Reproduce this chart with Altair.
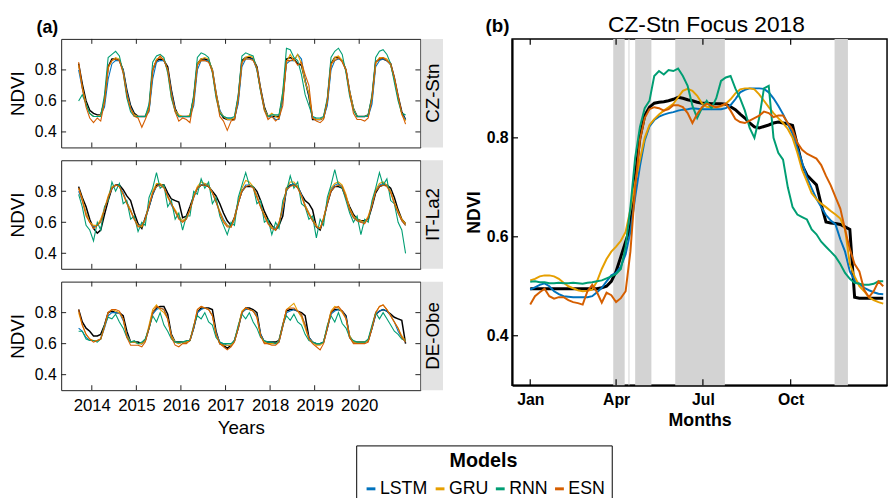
import altair as alt
import numpy as np
import pandas as pd

FONT = "Liberation Sans"
MODELS = ["LSTM", "GRU", "RNN", "ESN"]
COLORS = ["#0072BD", "#E69F00", "#009E73", "#D55E00"]
SITES = ["CZ-Stn", "IT-La2", "DE-Obe"]
NDVI_TICKS = [0.4, 0.6, 0.8]
YEARS = [2014, 2015, 2016, 2017, 2018, 2019, 2020]

# ---- panel (a): monthly NDVI (x100), Sep 2013 .. Jan 2021 ----
CZ_OBS = [84,71,60,54, 52,51,51,60,82,87,87,86,80,67,57,52, 50,50,50,55,80,86,87,86,82,67,55,50, 50,50,50,62,84,87,87,86,80,65,53,49, 48,48,48,62,86,88,88,87,82,68,56,50, 50,50,50,62,87,88,87,84,83,73,63,48, 48,48,49,60,84,88,88,86,80,66,55,50, 50,50,51,62,85,87,87,86,84,75,63,53, 48]
CZ_LSTM = [80,68,58,52, 50,50,51,56,74,84,86,86,80,66,56,51, 50,50,50,53,74,85,86,86,80,66,54,50, 50,50,50,57,80,86,86,86,80,64,54,50, 49,49,49,58,82,87,87,87,80,67,55,50, 50,48,48,61,84,86,86,90,87,73,64,50, 48,48,49,57,80,86,87,86,80,66,55,50, 50,50,50,58,82,86,87,86,83,74,62,52, 48]
CZ_GRU = [83,69,58,52, 50,50,51,60,81,86,88,87,79,64,55,51, 50,50,50,55,80,87,88,87,80,62,54,51, 50,50,51,61,84,87,88,87,80,65,53,50, 48,48,49,62,85,88,89,88,81,67,55,50, 52,50,49,66,85,90,86,90,84,72,65,49, 48,48,49,60,83,88,89,86,80,66,55,50, 50,50,51,62,84,88,88,87,83,74,62,51, 47]
CZ_RNN = [60,64,58,52, 50,50,50,64,88,90,92,89,78,62,53,50, 50,50,50,58,85,89,90,88,78,62,53,50, 50,50,50,64,88,91,90,88,78,62,52,50, 49,49,50,64,89,91,90,89,80,66,54,50, 51,51,51,66,94,93,88,86,77,64,57,50, 49,49,50,62,88,92,94,90,78,63,54,50, 50,50,51,64,88,92,93,90,84,72,60,52, 51]
CZ_ESN = [85,68,56,49, 46,49,47,59,82,86,87,86,78,64,55,50, 49,43,48,54,80,86,89,86,80,65,53,47, 49,48,46,60,83,86,86,85,79,64,50,47, 41,47,48,61,85,87,87,86,81,67,54,48, 50,47,49,57,86,86,87,83,85,77,70,49, 47,46,48,60,84,86,88,85,80,65,52,48, 48,47,49,62,85,87,88,86,84,75,63,52, 45]

IT_OBS = [83,76,70,62, 56,53,55,65,74,82,84,84,81,77,74,66, 59,56,63,70,78,84,84,84,79,75,74,73, 63,64,70,77,82,84,84,83,80,77,72,66, 61,58,63,73,80,83,83,83,80,74,67,62, 58,55,58,64,82,84,84,83,78,74,72,68, 57,55,62,72,80,83,83,82,76,70,65,62, 61,61,62,70,79,83,84,84,82,76,68,62, 59]
IT_LSTM = [80,74,66,60, 57,58,61,68,76,82,84,83,79,73,68,62, 58,58,62,70,78,83,84,83,77,71,67,63, 61,62,68,76,82,84,85,84,79,73,67,62, 58,57,62,72,80,84,84,83,77,70,64,60, 57,56,60,68,80,84,85,83,78,71,66,61, 57,56,62,72,81,84,85,83,77,68,63,61, 60,60,63,71,80,84,85,84,80,72,66,61, 58]
IT_GRU = [82,75,66,60, 58,58,62,69,77,83,84,83,78,73,68,62, 58,57,62,71,80,85,85,83,76,72,68,64, 61,63,68,77,83,86,85,84,79,74,67,61, 58,57,63,73,82,87,86,83,77,70,65,60, 57,55,60,70,82,86,86,83,77,71,66,62, 58,56,63,73,82,85,86,84,78,69,64,62, 61,60,64,72,81,85,86,84,80,73,67,62, 59]
IT_RNN = [78,70,58,55, 48,60,55,70,74,86,80,85,72,74,62,64, 54,60,58,76,82,92,82,84,70,74,62,66, 55,64,64,80,78,88,82,86,72,76,64,58, 52,60,58,76,84,92,84,83,72,74,60,62, 52,60,56,74,80,90,82,86,72,70,62,64, 50,62,58,76,84,94,84,82,74,66,60,64, 52,62,60,74,82,92,84,88,74,72,60,55, 40]
IT_ESN = [82,74,64,60, 56,58,60,68,76,82,84,83,78,72,67,62, 57,58,62,71,79,83,84,82,77,72,67,62, 60,62,68,76,82,84,84,83,79,73,66,60, 57,57,62,72,80,83,84,82,76,70,64,59, 56,55,59,70,81,83,84,82,77,70,65,61, 57,56,62,72,80,83,84,83,76,68,63,61, 60,59,63,71,80,83,84,83,79,72,66,61, 58]

DE_OBS = [82,74,70,68, 65,65,66,72,80,81,80,80,78,68,61,61, 61,60,62,70,80,83,84,84,79,66,61,61, 61,61,62,70,80,83,83,83,82,68,60,59, 57,59,62,70,80,83,83,82,80,66,61,61, 61,61,62,72,81,82,82,81,80,78,64,61, 60,60,61,70,80,82,82,81,78,64,61,61, 61,61,62,70,79,81,82,81,79,77,76,75, 60]
DE_LSTM = [70,68,64,62, 62,62,63,70,78,80,80,80,75,66,61,61, 60,60,62,70,79,82,83,82,76,65,61,60, 61,61,62,70,80,82,83,82,78,67,61,60, 59,59,62,70,80,82,82,81,78,66,61,60, 60,60,61,71,80,81,82,81,78,72,64,61, 60,60,61,70,79,81,82,81,77,65,61,61, 61,61,62,70,79,81,82,81,78,74,68,64, 61]
DE_GRU = [80,72,66,63, 62,62,63,71,80,82,81,80,76,65,61,61, 60,60,62,72,82,85,82,80,76,65,61,60, 61,61,62,71,82,84,83,82,78,66,60,59, 59,59,62,71,81,83,82,81,77,65,61,60, 60,60,62,72,82,84,86,81,77,70,63,61, 59,59,61,71,81,84,83,80,76,65,61,61, 61,61,62,71,80,84,85,82,78,74,70,65, 62]
DE_RNN = [68,68,63,62, 62,61,63,72,77,76,79,74,70,64,61,62, 60,61,63,70,78,74,80,72,68,63,61,61, 61,62,62,72,78,76,80,74,72,64,61,60, 60,60,62,72,79,76,80,74,70,64,62,61, 61,60,62,72,78,75,79,74,72,66,62,61, 60,60,61,72,78,74,80,73,70,64,62,61, 61,61,63,72,80,76,80,76,72,68,66,63, 62]
DE_ESN = [82,72,66,63, 61,62,63,71,80,82,82,81,76,64,59,59, 59,58,61,70,80,84,83,82,76,64,59,58, 60,60,62,71,82,84,83,82,78,66,60,58, 56,58,61,70,80,83,82,81,77,65,60,60, 59,59,61,71,82,83,83,81,79,72,63,60, 58,56,60,70,80,83,84,81,76,64,60,60, 60,60,61,70,80,84,85,82,78,74,70,64, 61]

# ---- panel (b): CZ-Stn 2018, every 5 days from Jan 1 ----
B_OBS = [.495,.495,.495,.495,.495,.495,.495,.495,.495,.495,
         .495,.495,.495,.495,.495,.497,.50,.51,.53,.56,
         .59,.62,.72,.80,.845,.862,.87,.872,.873,.875,
         .878,.882,.88,.877,.875,.872,.87,.87,.869,.869,
         .869,.868,.863,.857,.848,.84,.83,.822,.82,.823,
         .826,.83,.832,.83,.828,.825,.785,.745,.725,.715,
         .705,.665,.63,.628,.627,.625,.62,.615,.478,.476,
         .476,.476,.476,.476,.476]
B_LSTM = [.493,.498,.503,.506,.50,.49,.484,.48,.479,.478,
          .478,.478,.478,.48,.488,.497,.51,.522,.527,.54,
          .565,.61,.68,.743,.795,.823,.836,.843,.847,.85,
          .852,.855,.857,.858,.86,.859,.858,.858,.858,.858,
          .858,.86,.866,.878,.892,.897,.90,.90,.90,.899,
          .892,.88,.865,.848,.828,.808,.78,.75,.72,.698,
          .677,.66,.644,.633,.625,.595,.57,.53,.512,.505,
          .497,.492,.488,.485,.484]
B_GRU = [.512,.515,.52,.522,.522,.52,.515,.507,.50,.496,
         .492,.49,.491,.493,.51,.535,.555,.57,.58,.592,
         .61,.655,.71,.756,.80,.826,.838,.847,.855,.862,
         .869,.882,.895,.899,.895,.885,.87,.863,.862,.862,
         .864,.869,.878,.89,.898,.90,.90,.898,.888,.875,
         .862,.85,.84,.83,.818,.80,.77,.735,.712,.688,
         .676,.667,.66,.652,.645,.637,.615,.545,.52,.50,
         .49,.478,.472,.468,.465]
B_RNN = [.509,.51,.508,.508,.506,.506,.507,.506,.506,.507,
         .506,.505,.507,.508,.51,.512,.516,.52,.525,.535,
         .58,.66,.76,.822,.86,.875,.925,.935,.928,.937,
         .935,.94,.925,.905,.865,.84,.86,.875,.86,.88,
         .915,.922,.925,.90,.88,.855,.82,.80,.84,.90,
         .905,.80,.77,.756,.70,.66,.645,.64,.635,.615,
         .605,.59,.58,.57,.56,.545,.527,.515,.507,.505,
         .503,.503,.505,.51,.51]
B_ESN = [.463,.48,.488,.495,.48,.475,.478,.478,.472,.468,
         .466,.463,.49,.503,.488,.467,.487,.482,.468,.476,
         .49,.57,.70,.796,.84,.858,.862,.86,.855,.858,
         .866,.866,.862,.85,.83,.848,.862,.869,.865,.862,
         .865,.869,.855,.838,.832,.83,.835,.84,.845,.853,
         .85,.842,.845,.845,.83,.816,.79,.776,.768,.763,
         .758,.745,.723,.704,.68,.657,.615,.575,.545,.53,
         .493,.478,.49,.51,.50]
B_DOY = list(range(0, 371, 5))

BAND_START = ["2018-03-29", "2018-04-14", "2018-04-21", "2018-06-02", "2018-11-16"]
BAND_END = ["2018-04-10", "2018-04-15", "2018-05-08", "2018-07-24", "2018-11-30"]
MONTH_TICKS = ["2018-01-01", "2018-04-01", "2018-07-01", "2018-10-01"]
TITLE_B = "CZ-Stn Focus 2018"

# ---- layout constants ----
W_A, H_A, W_STRIP = 364, 110, 22
W_B, H_B = 380, 351
STRIP_FILL = "#e3e3e3"
BAND_FILL = "#d3d3d3"

MONTHS = pd.date_range("2013-09-01", periods=89, freq="MS") + pd.Timedelta(days=14)
B_DATES = pd.Timestamp("2018-01-01") + pd.to_timedelta(B_DOY, unit="D")

color_enc = alt.Color(
    "model:N",
    sort=MODELS,
    scale=alt.Scale(domain=MODELS, range=COLORS),
    legend=alt.Legend(
        orient="none", legendX=299, legendY=412, direction="horizontal", columns=4,
        gridAlign="none",
        title="Models", titleFontSize=20, titleFontWeight="bold", titleAnchor="middle",
        titleOrient="top", titleFont=FONT, titleColor="black", titlePadding=9,
        labelFontSize=18, labelFont=FONT, labelColor="black", labelOffset=0,
        symbolType="stroke", symbolStrokeWidth=3, symbolSize=80,
        columnPadding=1, padding=6, strokeColor="black", fillColor="white",
    ),
)

y_scale = alt.Scale(domain=[0.3, 1.0], nice=False, zero=False)
xa_scale = alt.Scale(domain=[alt.DateTime(year=2013, month=4, date=25),
                             alt.DateTime(year=2021, month=5, date=16)], nice=False)
year_vals = [alt.DateTime(year=y, month=1, date=1) for y in YEARS]
year_df = pd.DataFrame({"date": pd.to_datetime([f"{y}-01-01" for y in YEARS])})
ytick_df = pd.DataFrame({"ndvi": NDVI_TICKS})


def label_text(txt, size, x, y, weight="bold", align="left", opacity=1.0):
    return alt.Chart(pd.DataFrame({"t": [txt]})).mark_text(
        fontSize=size, fontWeight=weight, align=align, baseline="alphabetic",
        font=FONT, color="black", opacity=opacity,
    ).encode(text="t:N", x=alt.value(x), y=alt.value(y))


def left_row(site, obs, models, bottom, label_a):
    df_obs = pd.DataFrame({"date": MONTHS, "ndvi": np.array(obs) / 100.0})
    df_mod = pd.concat([
        pd.DataFrame({"date": MONTHS, "ndvi": np.array(v) / 100.0, "model": m})
        for m, v in zip(MODELS, models)
    ])
    if bottom:
        xaxis = alt.Axis(values=year_vals, format="%Y", labelFontSize=17, title="Years",
                         titleFontSize=19, titleFontWeight="normal", tickSize=0, domain=False,
                         grid=False, labelPadding=8, titlePadding=5, labelFont=FONT, titleFont=FONT)
    else:
        xaxis = None
    X = alt.X("date:T", scale=xa_scale, axis=xaxis)
    Y = alt.Y("ndvi:Q", scale=y_scale,
              axis=alt.Axis(values=NDVI_TICKS, format=".1f", labelFontSize=16, title="NDVI",
                            titleFontSize=19, titleFontWeight="normal", tickSize=0, domain=False,
                            grid=False, labelPadding=5, titlePadding=7, labelFont=FONT, titleFont=FONT))
    layers = [
        alt.Chart(df_obs).mark_line(color="black", strokeWidth=1.5).encode(x=X, y=Y),
        alt.Chart(df_mod).mark_line(strokeWidth=1.1).encode(x=X, y=Y, color=color_enc,
                                                             detail="model:N"),
        alt.Chart(year_df).mark_rule(color="#222", strokeWidth=1).encode(x=X, y=alt.value(0), y2=alt.value(5)),
        alt.Chart(year_df).mark_rule(color="#222", strokeWidth=1).encode(x=X, y=alt.value(H_A - 5), y2=alt.value(H_A)),
        alt.Chart(ytick_df).mark_rule(color="#222", strokeWidth=1).encode(y=Y, x=alt.value(0), x2=alt.value(5)),
        alt.Chart(ytick_df).mark_rule(color="#222", strokeWidth=1).encode(y=Y, x=alt.value(W_A - 5), x2=alt.value(W_A)),
    ]
    if label_a:
        layers.append(label_text("(a)", 18, -25, -6))
        # invisible twin of panel (b)'s heading so both columns share the same top extent
        layers.append(label_text(TITLE_B, 23, 0, -7, weight="normal", opacity=0))
    panel = alt.layer(*layers).properties(
        width=W_A, height=H_A, view=alt.ViewBackground(stroke="#222", strokeWidth=1)
    )
    sdf = pd.DataFrame({"site": [site]})
    strip = alt.layer(
        alt.Chart(sdf).mark_rect(color=STRIP_FILL).encode(
            x=alt.value(0), x2=alt.value(W_STRIP), y=alt.value(0), y2=alt.value(H_A)),
        alt.Chart(sdf).mark_text(angle=270, fontSize=19, font=FONT, color="black").encode(
            x=alt.value(W_STRIP / 2 + 1), y=alt.value(H_A / 2), text="site:N"),
    ).properties(width=W_STRIP, height=H_A, view=alt.ViewBackground(strokeWidth=0))
    return alt.hconcat(panel, strip, spacing=0)


rows = [
    left_row("CZ-Stn", CZ_OBS, [CZ_LSTM, CZ_GRU, CZ_RNN, CZ_ESN], False, True),
    left_row("IT-La2", IT_OBS, [IT_LSTM, IT_GRU, IT_RNN, IT_ESN], False, False),
    left_row("DE-Obe", DE_OBS, [DE_LSTM, DE_GRU, DE_RNN, DE_ESN], True, False),
]
left = alt.vconcat(*rows, spacing=11)

# ---- panel (b) ----
xb_scale = alt.Scale(domain=[alt.DateTime(year=2017, month=12, date=13),
                             alt.DateTime(year=2019, month=1, date=10)], nice=False)
month_vals = [alt.DateTime(year=2018, month=m, date=1) for m in [1, 4, 7, 10]]
xb_axis = alt.Axis(values=month_vals, format="%b", labelFontSize=16, labelFontWeight="bold",
                   title="Months", titleFontSize=18, titleFontWeight="bold", tickSize=0,
                   domain=True, domainWidth=2, domainColor="black", grid=False,
                   labelPadding=7, titlePadding=4, labelFont=FONT, titleFont=FONT)
yb_axis = alt.Axis(values=NDVI_TICKS, format=".1f", labelFontSize=16, labelFontWeight="bold",
                   title="NDVI", titleFontSize=18, titleFontWeight="bold", tickSize=0,
                   domain=True, domainWidth=2, domainColor="black", grid=False,
                   labelPadding=4, titlePadding=3, labelFont=FONT, titleFont=FONT)
XB = alt.X("date:T", scale=xb_scale, axis=xb_axis)
YB = alt.Y("ndvi:Q", scale=y_scale, axis=yb_axis)

band_df = pd.DataFrame({"date": pd.to_datetime(BAND_START), "end": pd.to_datetime(BAND_END)})
bobs = pd.DataFrame({"date": B_DATES, "ndvi": B_OBS})
bmod = pd.concat([
    pd.DataFrame({"date": B_DATES, "ndvi": v, "model": m})
    for m, v in zip(MODELS, [B_LSTM, B_GRU, B_RNN, B_ESN])
])
mtick_df = pd.DataFrame({"date": pd.to_datetime(MONTH_TICKS)})

panel_b = alt.layer(
    alt.Chart(band_df).mark_rect(color=BAND_FILL).encode(x=XB, x2="end:T", y=alt.value(0), y2=alt.value(H_B)),
    alt.Chart(bobs).mark_line(color="black", strokeWidth=3).encode(x=XB, y=YB),
    alt.Chart(bmod).mark_line(strokeWidth=2).encode(x=XB, y=YB, color=color_enc, detail="model:N"),
    alt.Chart(mtick_df).mark_rule(color="black", strokeWidth=1.2).encode(x=XB, y=alt.value(0), y2=alt.value(6)),
    alt.Chart(mtick_df).mark_rule(color="black", strokeWidth=1.2).encode(x=XB, y=alt.value(H_B - 6), y2=alt.value(H_B)),
    alt.Chart(ytick_df).mark_rule(color="black", strokeWidth=1.2).encode(y=YB, x=alt.value(0), x2=alt.value(6)),
    label_text("(b)", 19, -27, -7),
    label_text(TITLE_B, 23, 197, -7, weight="normal", align="center"),
).properties(
    width=W_B, height=H_B,
    view=alt.ViewBackground(stroke="black", strokeWidth=1.5),
)

chart = alt.hconcat(left, panel_b, spacing=22).properties(
    padding={"left": 8, "top": 10, "right": 0, "bottom": 0}
).configure(font=FONT).configure_axis(labelColor="black", titleColor="black")

chart.save("out.html", embed_options={"renderer": "svg", "actions": False})
